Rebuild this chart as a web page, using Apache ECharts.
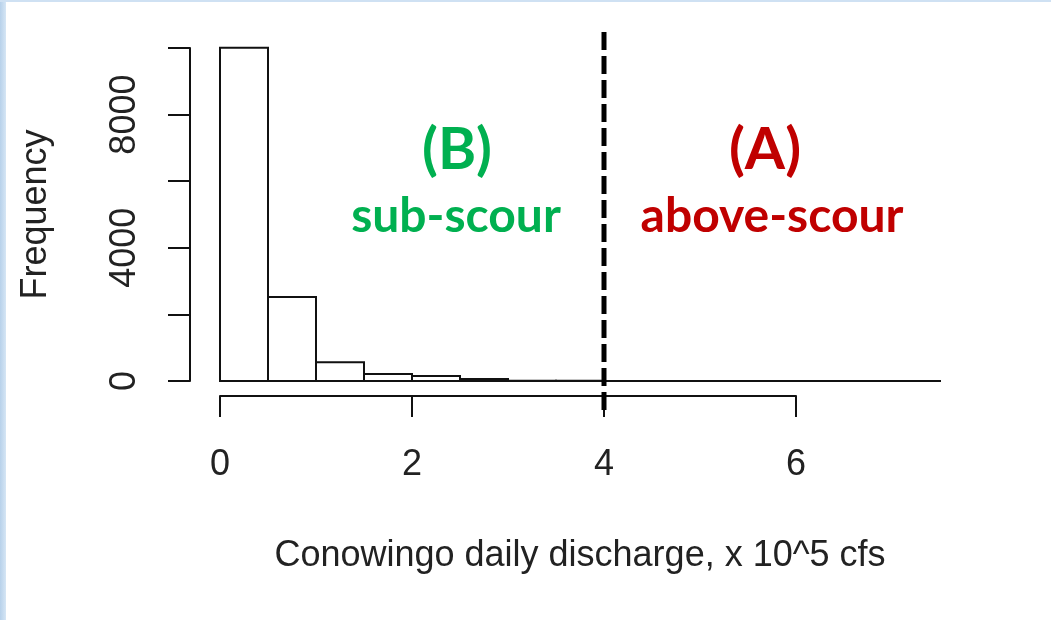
<!DOCTYPE html>
<html>
<head>
<meta charset="utf-8">
<script src="https://cdn.jsdelivr.net/npm/echarts@6/dist/echarts.min.js"></script>
<style>
  html, body { margin: 0; padding: 0; background: #fff; }
  #wrap { position: relative; width: 1051px; height: 620px; overflow: hidden; }
  #edge_left { position: absolute; left: 0; top: 0; width: 6px; height: 620px; background: linear-gradient(to right, #b7d1ea, #d6e6f5); }
  #edge_top { position: absolute; left: 0; top: 0; width: 1051px; height: 2px; background: #cfe1f3; }
  #chart { position: absolute; left: 0; top: 0; width: 1051px; height: 620px; }
</style>
</head>
<body>
<div id="wrap">
  <div id="edge_left"></div>
  <div id="edge_top"></div>
  <div id="chart"></div>
</div>
<script>
// histogram bins, x 10^5 cfs
const bin_starts = [0, 0.5, 1, 1.5, 2, 2.5, 3, 3.5, 4, 4.5, 5, 5.5, 6, 6.5, 7]
const bin_width = 0.5
const counts = [10010, 2520, 560, 210, 150, 60, 10, 5, 3, 2, 1, 1, 1, 0, 1]
const scour_threshold = 4
const x_ticks = [0, 2, 4, 6]
const y_ticks = [0, 4000, 8000]

const axis_font = "'Liberation Sans', Arial, sans-serif"
const note_font = "Lato, 'Open Sans', sans-serif"
const ink = '#111'

const bins = bin_starts.map((x0, i) => [x0, x0 + bin_width, counts[i]])

const myChart = echarts.init(document.getElementById('chart'), null, { renderer: 'canvas' })

function draw_bin(params, api) {
    const top_left = api.coord([api.value(0), api.value(2)])
    const bottom_right = api.coord([api.value(1), 0])
    return {
        type: 'rect',
        shape: {
            x: top_left[0],
            y: top_left[1],
            width: bottom_right[0] - top_left[0],
            height: bottom_right[1] - top_left[1]
        },
        style: { fill: '#fff', stroke: ink, lineWidth: 2 }
    }
}

const option = {
    animation: false,
    backgroundColor: 'transparent',
    grid: [
        { left: 220, top: 48, width: 720, height: 333 },
        { left: 220, top: 48, width: 576, height: 333 },
        { left: 220, top: 31, width: 720, height: 379 }
    ],
    xAxis: [
        {
            gridIndex: 0, type: 'value', min: 0, max: 7.5,
            axisLine: { show: false }, axisTick: { show: false },
            axisLabel: { show: false }, splitLine: { show: false },
            name: 'Conowingo daily discharge, x 10^5 cfs',
            nameLocation: 'middle', nameGap: 157,
            nameTextStyle: { fontFamily: axis_font, fontSize: 36, color: '#222' }
        },
        {
            gridIndex: 1, type: 'value', min: 0, max: 6, interval: 2,
            offset: 15,
            axisLine: { show: true, onZero: false, lineStyle: { color: ink, width: 2 } },
            axisTick: { show: true, length: 21, lineStyle: { color: ink, width: 2 } },
            axisLabel: {
                fontFamily: axis_font, fontSize: 36, color: '#222', margin: 51,
                formatter: v => x_ticks.includes(v) ? String(v) : ''
            },
            splitLine: { show: false }
        },
        {
            gridIndex: 2, type: 'value', min: 0, max: 7.5, show: false
        }
    ],
    yAxis: [
        {
            gridIndex: 0, type: 'value', min: 0, max: 10000, interval: 2000,
            offset: 30,
            axisLine: { show: true, onZero: false, lineStyle: { color: ink, width: 2 } },
            axisTick: { show: true, length: 22, lineStyle: { color: ink, width: 2 } },
            axisLabel: {
                rotate: 90, fontFamily: axis_font, fontSize: 36, color: '#222', margin: 47,
                formatter: v => y_ticks.includes(v) ? String(v) : ''
            },
            splitLine: { show: false },
            name: 'Frequency', nameLocation: 'middle', nameRotate: 90, nameGap: 136,
            nameTextStyle: { fontFamily: axis_font, fontSize: 36, color: '#222' }
        },
        { gridIndex: 1, type: 'value', min: 0, max: 1, show: false },
        { gridIndex: 2, type: 'value', min: 0, max: 1, show: false }
    ],
    series: [
        {
            type: 'custom',
            xAxisIndex: 0, yAxisIndex: 0,
            renderItem: draw_bin,
            encode: { x: [0, 1], y: 2 },
            data: bins
        },
        {
            type: 'line',
            xAxisIndex: 2, yAxisIndex: 2,
            data: [[scour_threshold, 0], [scour_threshold, 1]],
            symbol: 'none',
            lineStyle: { color: '#000', width: 5, type: [18, 6] }
        }
    ],
    graphic: [
        {
            type: 'text', x: 457, y: 150,
            style: { text: '(B)', fill: '#00b050', font: `bold 58px ${note_font}`, align: 'center', verticalAlign: 'middle' }
        },
        {
            type: 'text', x: 456, y: 217,
            style: { text: 'sub-scour', fill: '#00b050', font: `bold 48px ${note_font}`, align: 'center', verticalAlign: 'middle' }
        },
        {
            type: 'text', x: 765, y: 150,
            style: { text: '(A)', fill: '#c00000', font: `bold 58px ${note_font}`, align: 'center', verticalAlign: 'middle' }
        },
        {
            type: 'text', x: 772, y: 217,
            style: { text: 'above-scour', fill: '#c00000', font: `bold 48px ${note_font}`, align: 'center', verticalAlign: 'middle' }
        }
    ]
}

myChart.setOption(option)
</script>
</body>
</html>
